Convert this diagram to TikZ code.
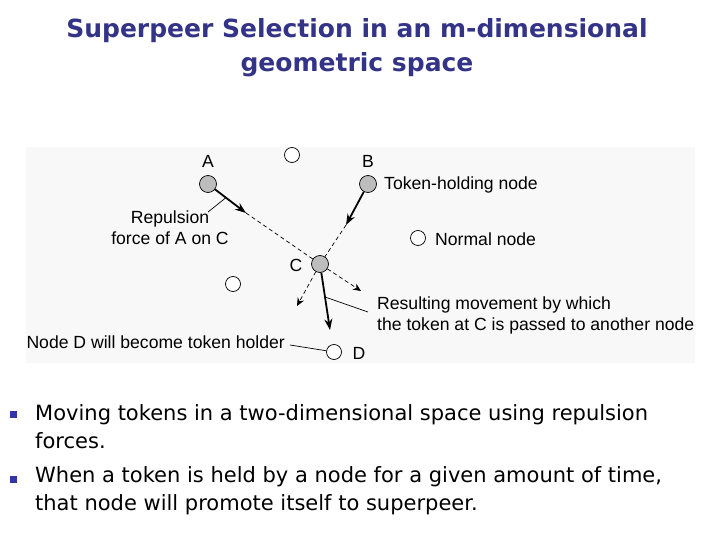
\documentclass[tikz,border=0pt]{standalone}
\usepackage{fontspec}
\setmainfont{DejaVu Sans}
\newfontfamily\figfont{Liberation Sans}
\usetikzlibrary{arrows.meta,positioning}
\definecolor{titleblue}{HTML}{333388}
\definecolor{bulletblue}{HTML}{3333AA}
\definecolor{panelgray}{HTML}{F8F8F8}
\definecolor{tokengray}{HTML}{BDBDBD}
\begin{document}
\begin{tikzpicture}[x=1pt,y=-1pt,
  token/.style={circle,draw,fill=tokengray,minimum size=17pt,inner sep=0pt,line width=0.7pt},
  peer/.style={circle,draw,fill=white,minimum size=15pt,inner sep=0pt,line width=0.7pt},
  lbl/.style={font=\figfont\fontsize{17.6}{21}\selectfont,inner sep=0pt},
  force/.style={line width=1.8pt,-{Stealth[length=11pt,width=8pt]}},
  trail/.style={line width=0.7pt,dash pattern=on 4pt off 3pt},
  push/.style={trail,-{Stealth[length=8pt,width=7pt]}},
  bullettext/.style={font=\fontsize{21}{28}\selectfont,anchor=west,align=left,inner sep=0pt}]
\useasboundingbox (0,0) rectangle (720,540);
% title
\node[font=\bfseries\fontsize{25}{34}\selectfont,text=titleblue,align=center] (title) at (357,48)
  {Superpeer Selection in an m-dimensional\\geometric space};
% picture panel
\fill[panelgray] (26,147) rectangle (695,363);
\node[token] (A) at (208,184) {};
\node[peer] (top) at (292,155) {};
\node[token] (B) at (368,184) {};
\node[peer] (N) at (418,238) {};
\node[token] (C) at (320,264) {};
\node[peer] (E) at (233,284) {};
\node[peer] (D) at (334,352) {};
\node[lbl] (labA) at (208,161) {A};
\node[lbl] (labB) at (368,161) {B};
\node[lbl] (labC) at (296,265) {C};
\node[lbl] (labD) at (359,353) {D};
\node[lbl,anchor=west] (tokentext) at (384,185) {Token-holding node};
\node[lbl,anchor=west] (normaltext) at (435,239) {Normal node};
\node[lbl,align=center] (reptext) at (170,228) {Repulsion\\force of A on C};
\node[lbl,anchor=east] (dtext) at (285,342) {Node D will become token holder};
\node[lbl,anchor=west,align=left] (restext) at (377,315)
  {Resulting movement by which\\the token at C is passed to another node};
% forces
\coordinate (tipA) at (246,213);
\coordinate (tipB) at (346,225);
\coordinate (tipL) at (297,306);
\coordinate (tipR) at (361,291);
\coordinate (tipD) at (330,330);
\draw[force] (A) -- (tipA);
\draw[trail] (tipA) -- (C);
\draw[force] (B) -- (tipB);
\draw[trail] (tipB) -- (C);
\draw[push] (C) -- (tipL);
\draw[push] (C) -- (tipR);
\draw[force] (C) -- (tipD);
% pointers
\coordinate (onA) at (226,197.6);
\coordinate (onD) at (325,297);
\draw[line width=0.7pt] (208,212) -- (onA);
\draw[line width=0.7pt] (368,312) -- (onD);
\draw[line width=0.7pt] (290,345) -- (D);
% bullets
\fill[bulletblue] (10,411) rectangle (17,418);
\fill[bulletblue] (10,476) rectangle (17,483);
\node[bullettext] (b1) at (35,427)
  {Moving tokens in a two-dimensional space using repulsion\\forces.};
\node[bullettext] (b2) at (35,491)
  {When a token is held by a node for a given amount of time,\\that node will promote itself to superpeer.};
\end{tikzpicture}
\end{document}
